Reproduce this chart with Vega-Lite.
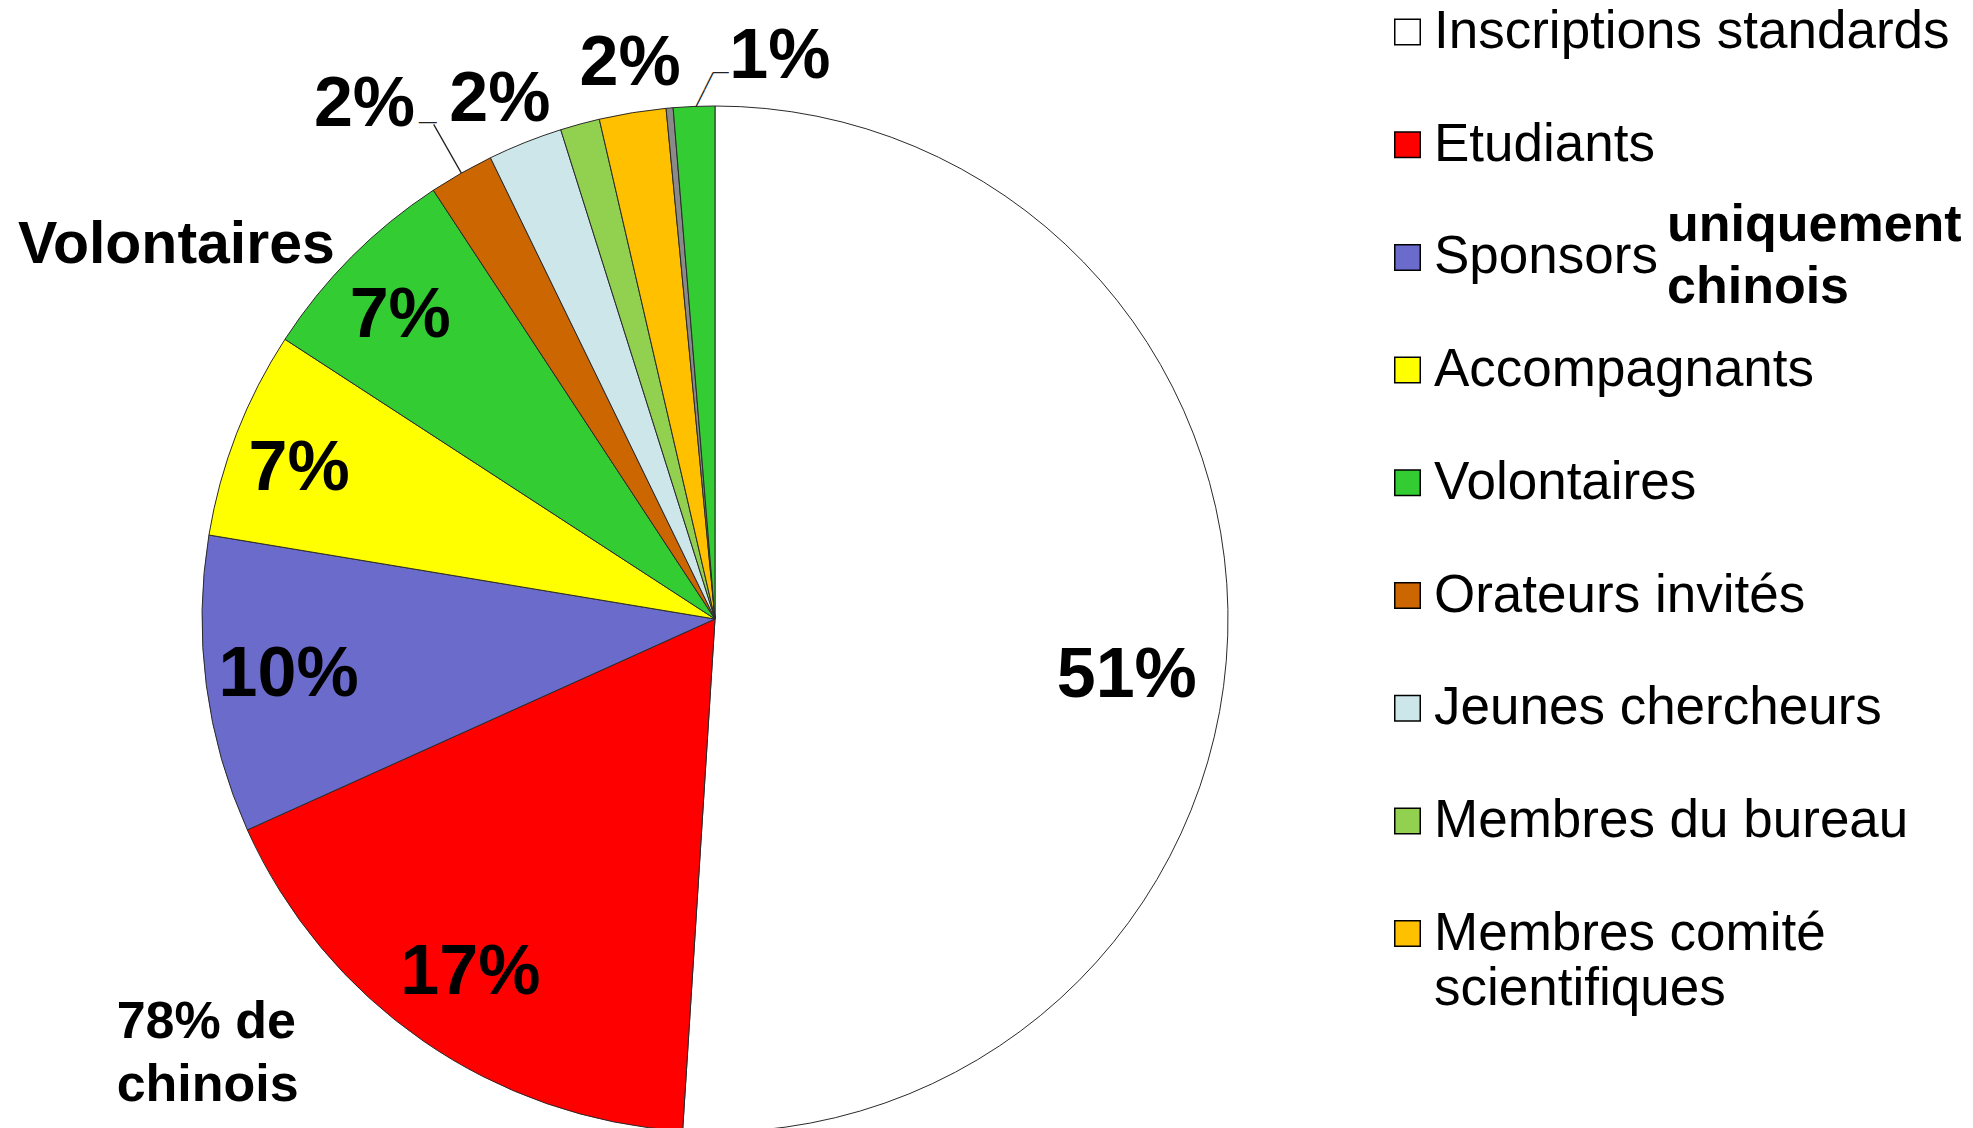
{
  "$schema": "https://vega.github.io/schema/vega-lite/v6.json",
  "autosize": "none",
  "width": 1430,
  "height": 1018,
  "padding": {"left": 0, "top": 110, "right": 543, "bottom": 0},
  "background": "white",
  "config": {"view": {"stroke": null}, "font": "Liberation Sans"},
  "data": {
    "values": [
      {"k": 1, "cat": "Inscriptions standards", "value": 51.0, "label": "51%"},
      {"k": 2, "cat": "Etudiants", "value": 17.25, "label": "17%"},
      {"k": 3, "cat": "Sponsors", "value": 9.36, "label": "10%"},
      {"k": 4, "cat": "Accompagnants", "value": 6.56, "label": "7%"},
      {"k": 5, "cat": "Volontaires", "value": 6.57, "label": "7%"},
      {"k": 6, "cat": "Orateurs invités", "value": 2.04, "label": "2%"},
      {"k": 7, "cat": "Jeunes chercheurs", "value": 2.35, "label": "2%"},
      {"k": 8, "cat": "Membres du bureau", "value": 1.24, "label": "1%"},
      {"k": 9, "cat": "Membres comité scientifiques", "value": 2.1, "label": "2%"},
      {"k": 10, "cat": "Divers", "value": 0.22, "label": "0%"},
      {"k": 11, "cat": "Autres", "value": 1.3, "label": "1%"}
    ]
  },
  "encoding": {
    "theta": {"field": "value", "type": "quantitative", "stack": true},
    "order": {"field": "k", "type": "quantitative"}
  },
  "layer": [
    {
      "mark": {"type": "arc", "outerRadius": 513, "stroke": "#2a2a2a", "strokeWidth": 1},
      "encoding": {
        "color": {
          "field": "cat",
          "type": "nominal",
          "scale": {
            "domain": ["Inscriptions standards", "Etudiants", "Sponsors", "Accompagnants", "Volontaires", "Orateurs invités", "Jeunes chercheurs", "Membres du bureau", "Membres comité scientifiques", "Divers", "Autres"],
            "range": ["#FFFFFF", "#FF0000", "#6B6BCC", "#FFFF00", "#33CC33", "#CC6600", "#CCE6EA", "#92D050", "#FFC000", "#8A8A8A", "#33CC33"]
          },
          "legend": {
            "orient": "none",
            "legendX": 1381,
            "legendY": -104.5,
            "title": null,
            "padding": 0,
            "values": ["Inscriptions standards", "Etudiants", "Sponsors", "Accompagnants", "Volontaires", "Orateurs invités", "Jeunes chercheurs", "Membres du bureau", "Membres comité scientifiques"],
            "symbolType": "square",
            "symbolSize": 650,
            "symbolStrokeColor": "#000000",
            "symbolStrokeWidth": 1.5,
            "symbolOpacity": 1,
            "labelFont": "Liberation Sans",
            "labelFontSize": 53,
            "labelColor": "#000000",
            "labelOffset": 0,
            "labelLimit": 900,
            "rowPadding": 58.7,
            "labelExpr": "datum.label === 'Membres comité scientifiques' ? ['Membres comité', 'scientifiques'] : datum.label"
          }
        }
      }
    },
    {
      "mark": {"type": "arc", "innerRadius": 513, "outerRadius": 569, "padAngle": 1, "fillOpacity": 0, "stroke": "#222222", "strokeWidth": 1.3},
      "encoding": {
        "detail": {"field": "cat"},
        "strokeOpacity": {"condition": {"test": "datum.cat === 'Orateurs invités'", "value": 1}, "value": 0}
      }
    },
    {
      "mark": {"type": "text", "radius": 569, "dx": -6, "dy": -2, "font": "Liberation Sans", "fontSize": 18, "fill": "#222222", "align": "center", "baseline": "middle"},
      "encoding": {
        "detail": {"field": "cat"},
        "text": {"condition": {"test": "datum.cat === 'Orateurs invités'", "value": "—"}, "value": ""}
      }
    },
    {
      "mark": {"type": "text", "radius": 530, "angle": -63.4, "dx": 4.5, "dy": 8.9, "font": "Liberation Sans", "fontSize": 19, "fill": "#222222", "align": "center", "baseline": "middle"},
      "encoding": {
        "detail": {"field": "cat"},
        "text": {"condition": {"test": "datum.cat === 'Autres'", "value": "——"}, "value": ""}
      }
    },
    {
      "mark": {"type": "text", "radius": 547, "dx": 28, "dy": 0, "font": "Liberation Sans", "fontSize": 16, "fill": "#222222", "align": "center", "baseline": "middle"},
      "encoding": {
        "detail": {"field": "cat"},
        "text": {"condition": {"test": "datum.cat === 'Autres'", "value": "—"}, "value": ""}
      }
    },
    {
      "mark": {"type": "text", "radius": 430, "font": "Liberation Sans", "fontSize": 70, "fontWeight": "bold", "fill": "#000000", "align": "center", "baseline": "middle"},
      "encoding": {
        "detail": {"field": "cat"},
        "text": {"condition": {"test": "datum.cat === 'Etudiants' || datum.cat === 'Sponsors'", "field": "label"}, "value": ""}
      }
    },
    {
      "mark": {"type": "text", "radius": 430, "dx": -15, "dy": 6, "font": "Liberation Sans", "fontSize": 70, "fontWeight": "bold", "fill": "#000000", "align": "center", "baseline": "middle"},
      "encoding": {
        "detail": {"field": "cat"},
        "text": {"condition": {"test": "datum.cat === 'Accompagnants'", "field": "label"}, "value": ""}
      }
    },
    {
      "mark": {"type": "text", "radius": 430, "dx": -10, "dy": 0, "font": "Liberation Sans", "fontSize": 70, "fontWeight": "bold", "fill": "#000000", "align": "center", "baseline": "middle"},
      "encoding": {
        "detail": {"field": "cat"},
        "text": {"condition": {"test": "datum.cat === 'Volontaires'", "field": "label"}, "value": ""}
      }
    },
    {
      "mark": {"type": "text", "radius": 430, "dx": -18, "dy": 43, "font": "Liberation Sans", "fontSize": 70, "fontWeight": "bold", "fill": "#000000", "align": "center", "baseline": "middle"},
      "encoding": {
        "detail": {"field": "cat"},
        "text": {"condition": {"test": "datum.cat === 'Inscriptions standards'", "field": "label"}, "value": ""}
      }
    },
    {
      "mark": {"type": "text", "radius": 565, "dx": -6, "dy": 6, "font": "Liberation Sans", "fontSize": 70, "fontWeight": "bold", "fill": "#000000", "align": "center", "baseline": "middle"},
      "encoding": {
        "detail": {"field": "cat"},
        "text": {"condition": {"test": "datum.cat === 'Jeunes chercheurs'", "field": "label"}, "value": ""}
      }
    },
    {
      "mark": {"type": "text", "radius": 565, "dx": 6, "dy": 3, "font": "Liberation Sans", "fontSize": 70, "fontWeight": "bold", "fill": "#000000", "align": "center", "baseline": "middle"},
      "encoding": {
        "detail": {"field": "cat"},
        "text": {"condition": {"test": "datum.cat === 'Membres comité scientifiques'", "field": "label"}, "value": ""}
      }
    },
    {
      "mark": {"type": "text", "radius": 620, "dx": -44, "dy": 25, "font": "Liberation Sans", "fontSize": 70, "fontWeight": "bold", "fill": "#000000", "align": "center", "baseline": "middle"},
      "encoding": {
        "detail": {"field": "cat"},
        "text": {"condition": {"test": "datum.cat === 'Orateurs invités'", "field": "label"}, "value": ""}
      }
    },
    {
      "mark": {"type": "text", "radius": 566, "dx": 88, "dy": 4, "font": "Liberation Sans", "fontSize": 70, "fontWeight": "bold", "fill": "#000000", "align": "center", "baseline": "middle"},
      "encoding": {
        "detail": {"field": "cat"},
        "text": {"condition": {"test": "datum.cat === 'Autres'", "field": "label"}, "value": ""}
      }
    },
    {
      "mark": {"type": "text", "radius": 657, "dx": -73, "dy": 90, "font": "Liberation Sans", "fontSize": 59, "fontWeight": "bold", "fill": "#000000", "align": "center", "baseline": "middle"},
      "encoding": {
        "detail": {"field": "cat"},
        "text": {"condition": {"test": "datum.cat === 'Volontaires'", "value": "Volontaires"}, "value": ""}
      }
    },
    {
      "mark": {"type": "text", "radius": 600, "dx": -257, "dy": -90, "font": "Liberation Sans", "fontSize": 52, "fontWeight": "bold", "fill": "#000000", "align": "left", "baseline": "middle", "lineHeight": 63},
      "encoding": {
        "detail": {"field": "cat"},
        "text": {"condition": {"test": "datum.cat === 'Etudiants'", "value": ["78% de", "chinois"]}, "value": ""}
      }
    },
    {
      "mark": {"type": "text", "radius": 0, "dx": 952, "dy": -394, "font": "Liberation Sans", "fontSize": 52, "fontWeight": "bold", "fill": "#000000", "align": "left", "baseline": "middle", "lineHeight": 62},
      "encoding": {
        "detail": {"field": "cat"},
        "text": {"condition": {"test": "datum.cat === 'Sponsors'", "value": ["uniquement", "chinois"]}, "value": ""}
      }
    }
  ]
}
